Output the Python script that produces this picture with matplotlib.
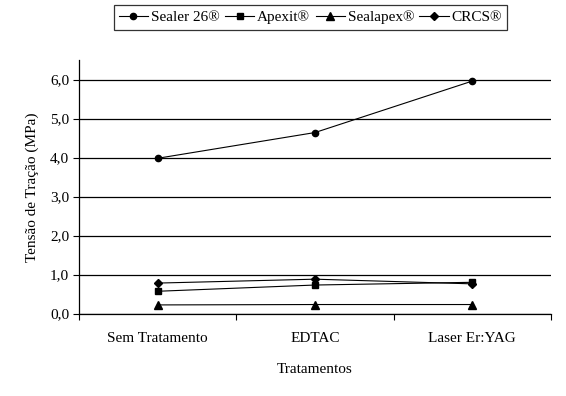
import matplotlib
matplotlib.use("Agg")
import matplotlib.pyplot as plt
from matplotlib.ticker import FixedLocator, FuncFormatter

categories = ["Sem Tratamento", "EDTAC", "Laser Er:YAG"]
series_names = ["Sealer 26®", "Apexit®", "Sealapex®", "CRCS®"]
sealer26 = [3.98, 4.64, 5.96]
apexit = [0.57, 0.73, 0.80]
sealapex = [0.22, 0.23, 0.23]
crcs = [0.78, 0.88, 0.76]
y_ticks = [0, 1, 2, 3, 4, 5, 6]

plt.rcParams['font.family'] = ['Liberation Serif', 'DejaVu Serif']

fig = plt.figure(figsize=(5.66, 3.96), dpi=100)
ax = fig.add_axes([79/566, 1 - 313.5/396, (551-79)/566, (313.5-60)/396])

x = list(range(len(categories)))
markers = ['o', 's', '^', 'D']
sizes = [4.5, 5, 5.5, 4.2]
for vals, name, m, s in zip([sealer26, apexit, sealapex, crcs], series_names, markers, sizes):
    ax.plot(x, vals, color='black', lw=0.8, marker=m, ms=s, label=name,
            markeredgecolor='black', markerfacecolor='black')

ax.set_xlim(-0.5, 2.5)
ax.set_ylim(0, 6.5)
ax.set_yticks(y_ticks)
ax.yaxis.set_major_formatter(FuncFormatter(lambda v, p: f"{v:.1f}".replace('.', ',')))
ax.set_xticks(x)
ax.set_xticklabels(categories)
ax.xaxis.set_minor_locator(FixedLocator([-0.5, 0.5, 1.5, 2.5]))
ax.tick_params(axis='x', which='major', length=0, pad=13, labelsize=11)
ax.tick_params(axis='x', which='minor', length=4, width=0.8, direction='out')
ax.tick_params(axis='y', length=4, width=0.8, direction='out', labelsize=11, pad=3)

ax.grid(axis='y', color='black', lw=0.9)
ax.set_axisbelow(True)
for side in ['top', 'right']:
    ax.spines[side].set_visible(False)
for side in ['left', 'bottom']:
    ax.spines[side].set_linewidth(0.9)

ax.set_xlabel("Tratamentos", fontsize=11, labelpad=13)
ax.set_ylabel("Tensão de Tração (MPa)", fontsize=11, labelpad=8)

leg = fig.legend(loc='center', bbox_to_anchor=((114+507)/2/566, 1 - 17.5/396), ncol=4,
                 frameon=True, fancybox=False, fontsize=11, handlelength=1.9,
                 handletextpad=0.2, columnspacing=0.35, borderpad=0.35, borderaxespad=0)
leg.get_frame().set_edgecolor('black')
leg.get_frame().set_linewidth(0.9)

fig.savefig("out.png", dpi=100)
